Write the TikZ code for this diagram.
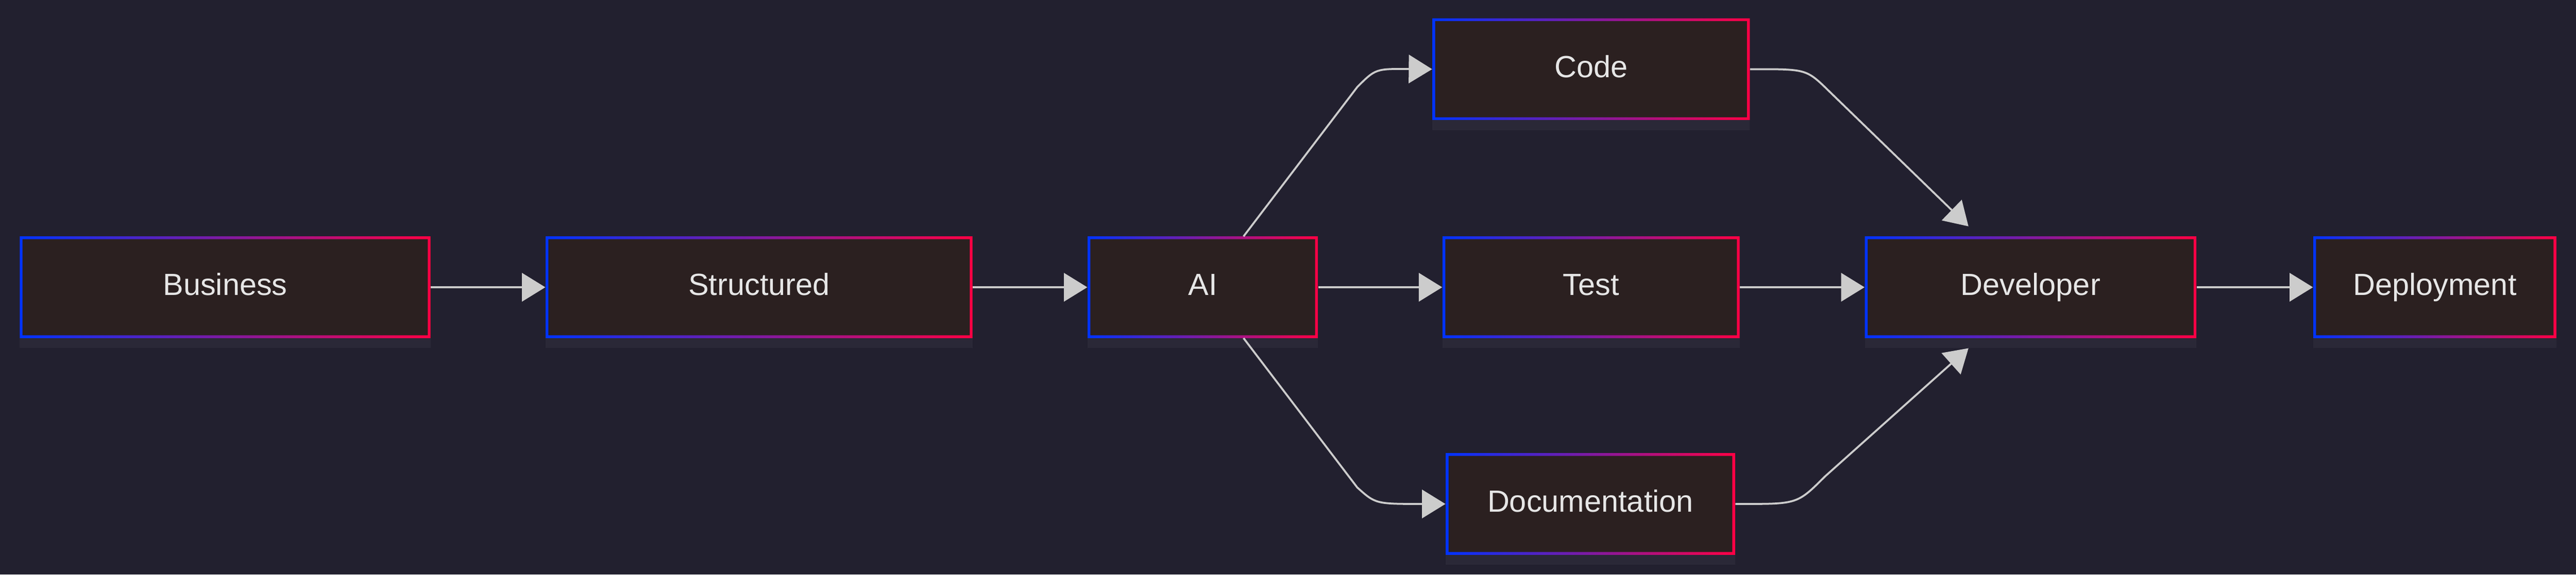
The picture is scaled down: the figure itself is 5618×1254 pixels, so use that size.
\documentclass[tikz,border=0pt]{standalone}
\usepackage{fontspec}
\setmainfont{Liberation Sans}
\usetikzlibrary{arrows.meta}
\definecolor{bg}{HTML}{22202F}
\definecolor{boxfill}{HTML}{2B2020}
\definecolor{bl}{HTML}{0033FF}
\definecolor{rd}{HTML}{FF0044}
\definecolor{ln}{HTML}{CCCCCC}
\definecolor{tx}{HTML}{E6E6E6}
\begin{document}
\begin{tikzpicture}[x=0.01cm,y=-0.01cm,
  box/.style={fill=boxfill,inner sep=0pt,text=tx,text height=13.5pt,text depth=3.5pt,font=\fontsize{19}{23}\selectfont},
  edge/.style={draw=ln,line width=1.2pt,-{Triangle[length=14.5pt,width=17.6pt]}}]
\fill[bg] (0,0) rectangle (5618,1254);
\useasboundingbox (0,0) rectangle (5618,1254);
\def\mk#1#2#3#4#5#6{%
  \fill[white,opacity=0.04] (#2,#5) rectangle (#3,#5+22);
  \node[box,minimum width={(#3-#2)*0.01cm},minimum height={(#5-#4)*0.01cm}] (#1) at ({(#2+#3)/2},{(#4+#5)/2}) {#6};
  \path[left color=bl,right color=rd,even odd rule] (#2,#4) rectangle (#3,#5) (#2+6,#4+6) rectangle (#3-6,#5-6);}
\mk{bus}{43}{939}{516}{738}{Business}
\mk{str}{1190}{2121}{516}{738}{Structured}
\mk{ai}{2372}{2874}{516}{738}{AI}
\mk{code}{3124}{3816}{40}{262}{Code}
\mk{test}{3146}{3794}{516}{738}{Test}
\mk{doc}{3153}{3784}{989}{1211}{Documentation}
\mk{dev}{4067}{4790}{516}{738}{Developer}
\mk{dep}{5045}{5575}{516}{738}{Deployment}
\coordinate (aiT) at (2712,516);
\coordinate (aiB) at (2712,738);
\coordinate (devT) at (4293,494);
\coordinate (devB) at (4293,760);
\draw[edge] (bus) -- (str);
\draw[edge] (str) -- (ai);
\draw[edge] (ai) -- (test);
\draw[edge] (test) -- (dev);
\draw[edge] (dev) -- (dep);
\draw[edge] (aiT) -- (2960,190) .. controls (3000,150) .. (code.west);
\draw[edge] (aiB) -- (2960,1064) .. controls (3000,1100) .. (doc.west);
\draw[edge] (code.east) -- (3830,151) .. controls (3940,151) .. (3990,200) -- (devT);
\draw[edge] (doc.east) -- (3800,1100) .. controls (3920,1100) .. (3980,1040) -- (devB);
\end{tikzpicture}
\end{document}
